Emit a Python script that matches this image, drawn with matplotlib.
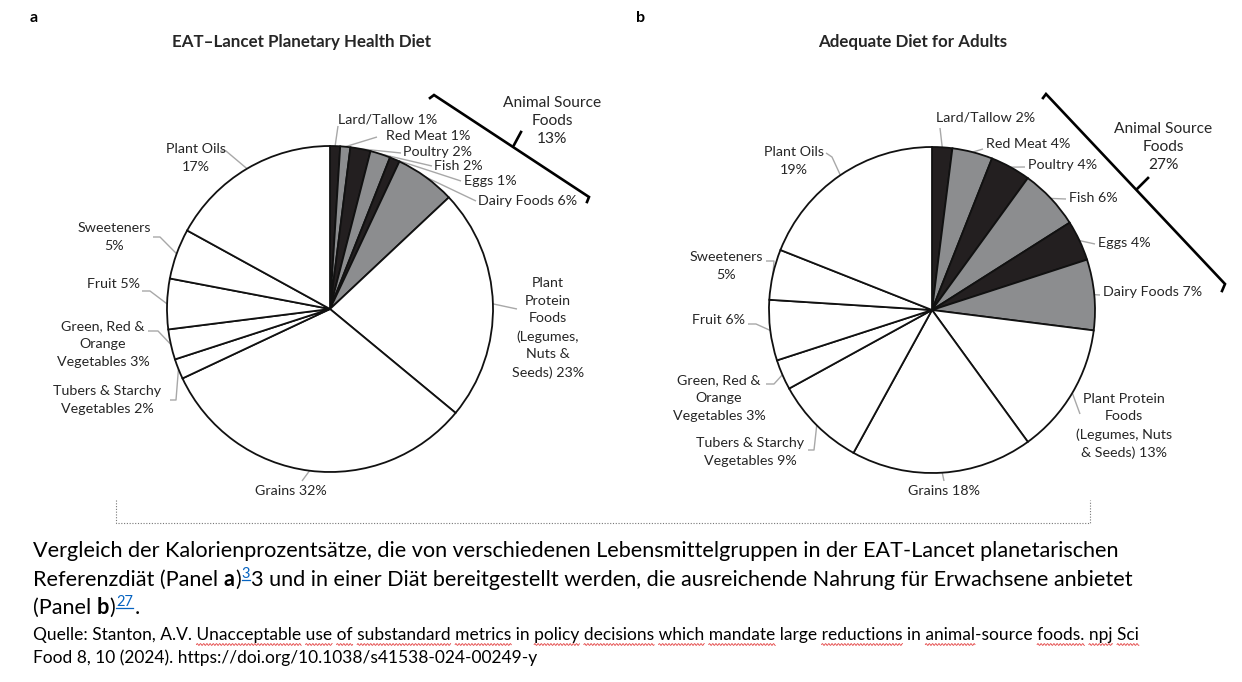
import matplotlib
matplotlib.use('Agg')
import matplotlib.pyplot as plt
import numpy as np

# ---------------- data ----------------
categories = ['Lard/Tallow', 'Red Meat', 'Poultry', 'Fish', 'Eggs', 'Dairy Foods',
              'Plant Protein Foods', 'Grains', 'Tubers & Starchy Vegetables',
              'Green, Red & Orange Vegetables', 'Fruit', 'Sweeteners', 'Plant Oils']
animal_flags = [1, 1, 1, 1, 1, 1, 0, 0, 0, 0, 0, 0, 0]
values_a = [1, 1, 2, 2, 1, 6, 23, 32, 2, 3, 5, 5, 17]
values_b = [2, 4, 4, 6, 4, 7, 13, 18, 9, 3, 6, 5, 19]

labels_a = ['Lard/Tallow {}%', 'Red Meat {}%', 'Poultry {}%', 'Fish {}%', 'Eggs {}%',
            'Dairy Foods {}%', 'Plant\nProtein\nFoods\n(Legumes,\nNuts &\nSeeds) {}%',
            'Grains {}%', 'Tubers & Starchy\nVegetables {}%',
            'Green, Red &\nOrange\nVegetables {}%', 'Fruit {}%', 'Sweeteners\n{}%',
            'Plant Oils\n{}%']
labels_b = ['Lard/Tallow {}%', 'Red Meat {}%', 'Poultry {}%', 'Fish {}%', 'Eggs {}%',
            'Dairy Foods {}%', 'Plant Protein\nFoods\n(Legumes, Nuts\n& Seeds) {}%',
            'Grains {}%', 'Tubers & Starchy\nVegetables {}%',
            'Green, Red &\nOrange\nVegetables {}%', 'Fruit {}%', 'Sweeteners\n{}%',
            'Plant Oils\n{}%']

title_a = 'EAT–Lancet Planetary Health Diet'
title_b = 'Adequate Diet for Adults'
group_label = 'Animal Source\nFoods\n{}%'

caption_1 = 'Vergleich der Kalorienprozentsätze, die von verschiedenen Lebensmittelgruppen in der EAT-Lancet planetarischen'
caption_2a = 'Referenzdiät (Panel'
caption_2b = '3 und in einer Diät bereitgestellt werden, die ausreichende Nahrung für Erwachsene anbietet'
ref_a = '3'
ref_b = '27'
source_1 = 'Quelle: Stanton, A.V. Unacceptable use of substandard metrics in policy decisions which mandate large reductions in animal-source foods. npj Sci'
source_2 = 'Food 8, 10 (2024). https://doi.org/10.1038/s41538-024-00249-y'
spell_marked = ['Unacceptable', 'use', 'of', 'substandard', 'metrics', 'policy', 'decisions',
                'which', 'mandate', 'reductions', 'animal', 'foods.', 'npj', 'Sci']

# ---------------- styles / layout ----------------
FONT = 'Lato'
BLACK = '#231f20'
GRAY = '#8c8d8f'
LEADER = '#a8a8a8'
TXT = '#262626'
slice_colors = [BLACK, GRAY, BLACK, GRAY, BLACK, GRAY] + ['white'] * 7

W, H = 1242, 682
fig = plt.figure(figsize=(W / 100, H / 100), dpi=100)
ax = fig.add_axes([0, 0, 1, 1])


def Y(p):
    return H - p


R = 163
centers = [(330, 309), (932, 310)]

# label layout: (x, y, ha, leader points)
layout_a = [
    (338, 119, 'left', [(338, 126)]),
    (386, 136, 'left', [(377, 137)]),
    (403, 152, 'left', [(401, 153)]),
    (434, 166, 'left', [(432, 166)]),
    (464, 181, 'left', [(461, 181)]),
    (478, 201, 'left', [(476, 201)]),
    (548, 328, 'center', [(517, 309)]),
    (291, 491, 'center', [(302, 481)]),
    (107, 400, 'center', [(176, 400), (170, 400)]),
    (103, 344, 'center', [(158, 331), (148, 331)]),
    (140, 284, 'right', [(150, 291), (142, 291)]),
    (114, 237, 'center', [(160, 237), (153, 237)]),
    (196, 158, 'center', [(226, 151), (220, 151)]),
]
layout_b = [
    (936, 118, 'left', [(940, 128)]),
    (986, 144, 'left', [(983, 149)]),
    (1028, 165, 'left', [(1025, 167)]),
    (1069, 198, 'left', [(1066, 199)]),
    (1098, 243, 'left', [(1095, 244)]),
    (1103, 292, 'left', [(1100, 295)]),
    (1124, 426, 'center', [(1080, 414)]),
    (944, 491, 'center', [(944, 481)]),
    (750, 452, 'center', [(814, 450), (808, 450)]),
    (719, 398, 'center', [(774, 384), (766, 384)]),
    (745, 320, 'right', [(756, 324), (748, 324)]),
    (726, 266, 'center', [(774, 261), (766, 261)]),
    (794, 161, 'center', [(832, 157), (826, 153)]),
]
brackets = [
    dict(pts=[(430, 98), (434, 95), (589, 197), (587, 202)], tick=[(514, 145), (521, 132)],
         label=(552, 121)),
    dict(pts=[(1043, 98), (1046, 94), (1225, 284), (1222, 291)], tick=[(1137, 189), (1148, 178)],
         label=(1163, 147)),
]

panels = [(values_a, labels_a, layout_a, title_a, 'a', 302, 30),
          (values_b, labels_b, layout_b, title_b, 'b', 913, 636)]

LAB = 10.3
for k, (vals, labs, lay, title, letter, tx, lx) in enumerate(panels):
    cx, cy = centers[k]
    wedges, _ = ax.pie(vals, colors=slice_colors, startangle=90, counterclock=False,
                       center=(cx, Y(cy)), radius=R, frame=True,
                       wedgeprops=dict(edgecolor='#111111', linewidth=1.3))
    for w, lab, v, (x, y, ha, pts) in zip(wedges, labs, vals, lay):
        mid = np.deg2rad((w.theta1 + w.theta2) / 2)
        sx, sy = cx + R * np.cos(mid), Y(cy) + R * np.sin(mid)
        xs = [sx] + [p[0] for p in pts]
        ys = [sy] + [Y(p[1]) for p in pts]
        ax.plot(xs, ys, color=LEADER, lw=1.0, zorder=0.5, solid_capstyle='butt')
        ax.text(x, Y(y), lab.format(v), ha=ha, va='center', fontsize=LAB, family=FONT,
                color=TXT, multialignment='center', linespacing=1.55)
    ax.text(tx, Y(42), title, ha='center', va='center', fontsize=12.2, fontweight='bold',
            family=FONT, color=TXT)
    ax.text(lx, Y(18), letter, ha='left', va='center', fontsize=11.5, fontweight='bold',
            family=FONT, color='black')
    br = brackets[k]
    ax.plot([p[0] for p in br['pts']], [Y(p[1]) for p in br['pts']], color='black', lw=1.9,
            solid_joinstyle='miter', zorder=3)
    ax.plot([p[0] for p in br['tick']], [Y(p[1]) for p in br['tick']], color='black', lw=1.9,
            zorder=3)
    total = sum(v for v, f in zip(vals, animal_flags) if f)
    ax.text(br['label'][0], Y(br['label'][1]), group_label.format(total), ha='center',
            va='center', fontsize=11.2, family=FONT, color=TXT, linespacing=1.4)

# dotted bracket under the charts
ax.plot([116, 116, 1090, 1090], [Y(500), Y(523), Y(523), Y(500)], color='#777777', lw=0.8,
        linestyle=(0, (1, 1.5)))

ax.set_xlim(0, W)
ax.set_ylim(0, H)
ax.set_aspect('auto')
ax.axis('off')

# ---------------- caption (rich text) ----------------
renderer = fig.canvas.get_renderer()


def width_of(s, **kw):
    t = ax.text(0, 0, s, **kw)
    w = t.get_window_extent(renderer).width
    t.remove()
    return w


CAP = 15.6
cap_kw = dict(fontsize=CAP, family=FONT, color='black', va='baseline', ha='left')
sp = width_of('a a', **cap_kw) - width_of('aa', **cap_kw)


def put(x, y, s, **kw):
    t = ax.text(x, Y(y), s, **kw)
    return x + t.get_window_extent(renderer).width


def sup(x, y, s):
    kw = dict(fontsize=10.5, family=FONT, color='#0563c1', va='baseline', ha='left')
    x0 = x + 1
    x1 = put(x0, y - 8, s, **kw)
    ax.plot([x0, x1], [Y(y - 6), Y(y - 6)], color='#0563c1', lw=0.9)
    return x1 + 1


ax.text(33, Y(557), caption_1, **cap_kw)

x = put(33, 586, caption_2a, **cap_kw) + sp
x = put(x, 586, 'a', **dict(cap_kw, fontweight='bold')) + 0.5
x = put(x, 586, ')', **cap_kw)
x = sup(x, 586, ref_a)
put(x, 586, caption_2b, **cap_kw)

x = put(33, 614, '(Panel', **cap_kw) + sp
x = put(x, 614, 'b', **dict(cap_kw, fontweight='bold')) + 0.5
x = put(x, 614, ')', **cap_kw)
x = sup(x, 614, ref_b)
put(x + 0.5, 614, '.', **cap_kw)

src_kw = dict(fontsize=12.5, family=FONT, color='black', va='baseline', ha='left')
ax.text(33, Y(640), source_1, **src_kw)
ax.text(33, Y(663), source_2, **src_kw)

# red wavy spell-check underlines
words = source_1.split(' ')
for i, wd in enumerate(words):
    core = wd
    if wd.startswith('animal'):
        core = 'animal'
    if core in spell_marked:
        prefix = ' '.join(words[:i])
        start = 33 + (width_of(prefix + ' ' + core, **src_kw) - width_of(core, **src_kw)
                      if prefix else 0)
        end = start + width_of(core, **src_kw)
        xx = np.linspace(start, end, max(int((end - start) * 2), 2))
        yy = Y(644.5) + 0.9 * np.sin((xx - start) * 2 * np.pi / 3.2)
        ax.plot(xx, yy, color='#e23b3b', lw=0.6)

fig.savefig('out.png', dpi=100, facecolor='white')
